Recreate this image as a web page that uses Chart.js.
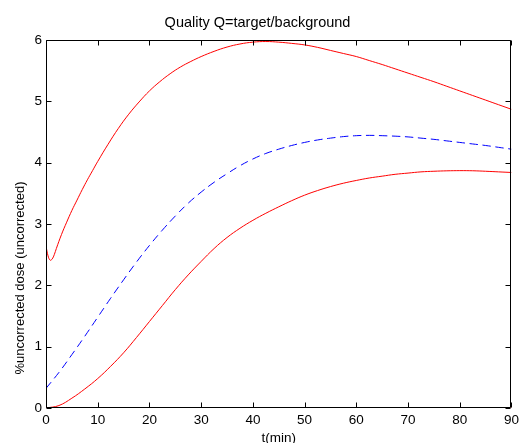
<!DOCTYPE html>
<html>
<head>
<meta charset="utf-8">
<script src="https://cdn.jsdelivr.net/npm/chart.js@4/dist/chart.umd.min.js"></script>
<style>
  html, body { margin: 0; padding: 0; background: #fff; }
  canvas { display: block; }
</style>
</head>
<body>
<canvas id="quality" width="523" height="443"></canvas>
<script>
// --- data ---
const xTicks = [0, 10, 20, 30, 40, 50, 60, 70, 80, 90];
const yTicks = [0, 1, 2, 3, 4, 5, 6];

// shared time grid (min) for the smooth curves
const gridT = [0, 2.5, 5, 7.5, 10, 12.5, 15, 17.5, 20, 22.5, 25, 27.5, 30, 32.5, 35, 37.5, 40, 42.5, 45, 47.5, 50, 52.5, 55, 57.5, 60, 62.5, 65, 67.5, 70, 72.5, 75, 77.5, 80, 82.5, 85, 87.5, 90];

// upper red curve has a dip right after t=0, so it gets its own early points
const upperT = [0, 0.4, 0.8, 1.2, 1.6, 2, 3, 4, 5, 6, 7, 8, 9, 10, 12, 14, 16, 18, 20, 22, 24, 26, 28, 30, 32.5, 35, 37.5, 40, 42.5, 45, 47.5, 50, 52.5, 55, 57.5, 60, 62.5, 65, 67.5, 70, 72.5, 75, 77.5, 80, 82.5, 85, 87.5, 90];
const upperQ = [2.64, 2.48, 2.41, 2.43, 2.5, 2.6, 2.83, 3.03, 3.22, 3.39, 3.56, 3.72, 3.87, 4.02, 4.3, 4.56, 4.79, 4.99, 5.17, 5.32, 5.45, 5.56, 5.65, 5.73, 5.815, 5.885, 5.935, 5.965, 5.975, 5.965, 5.945, 5.92, 5.88, 5.83, 5.78, 5.73, 5.665, 5.6, 5.53, 5.46, 5.39, 5.32, 5.245, 5.17, 5.095, 5.02, 4.945, 4.87];

const meanQ = [0.32, 0.58, 0.87, 1.17, 1.48, 1.79, 2.09, 2.38, 2.65, 2.9, 3.13, 3.34, 3.52, 3.68, 3.82, 3.95, 4.06, 4.15, 4.22, 4.28, 4.33, 4.37, 4.4, 4.425, 4.44, 4.445, 4.44, 4.432, 4.42, 4.4, 4.38, 4.355, 4.33, 4.305, 4.28, 4.25, 4.22];

const lowerQ = [0, 0.04, 0.16, 0.31, 0.48, 0.68, 0.9, 1.15, 1.41, 1.67, 1.93, 2.17, 2.39, 2.6, 2.78, 2.93, 3.06, 3.175, 3.28, 3.38, 3.47, 3.545, 3.61, 3.665, 3.71, 3.75, 3.78, 3.81, 3.83, 3.85, 3.86, 3.867, 3.87, 3.868, 3.86, 3.85, 3.84];

const zeroT = [0, 90];
const zeroQ = [0, 0];

const pts = (ts, qs) => ts.map((t, i) => ({ x: t, y: qs[i] }));
const FONT = "'Liberation Sans', Arial, Helvetica, sans-serif";

// matlab style box with inward ticks on all four sides
const boxTicks = {
    id: 'boxTicks',
    afterDatasetsDraw(chart) {
        const { ctx, chartArea: a, scales: { x, y } } = chart;
        const L = Math.round(a.left) + 0.5, R = Math.round(a.right) - 0.5;
        const T = Math.round(a.top) + 0.5, B = Math.round(a.bottom) - 0.5;
        ctx.save();
        ctx.strokeStyle = '#000';
        ctx.lineWidth = 1;
        ctx.beginPath();
        ctx.rect(L, T, R - L, B - T);
        xTicks.forEach(v => {
            const px = Math.round(x.getPixelForValue(v)) + 0.5;
            ctx.moveTo(px, B); ctx.lineTo(px, B - 5);
            ctx.moveTo(px, T); ctx.lineTo(px, T + 5);
        });
        yTicks.forEach(v => {
            const py = Math.round(y.getPixelForValue(v)) + 0.5;
            ctx.moveTo(L, py); ctx.lineTo(L + 5, py);
            ctx.moveTo(R, py); ctx.lineTo(R - 5, py);
        });
        ctx.stroke();

        // y axis label
        ctx.fillStyle = '#000';
        ctx.font = '13px ' + FONT;
        ctx.textAlign = 'center';
        ctx.textBaseline = 'middle';
        ctx.translate(20, 278);
        ctx.rotate(-Math.PI / 2);
        ctx.fillText('%uncorrected dose (uncorrected)', 0, 0);
        ctx.restore();
    }
};

new Chart(document.getElementById('quality'), {
    type: 'line',
    data: {
        datasets: [
            { data: pts(zeroT, zeroQ), borderColor: '#ff0000', borderWidth: 1, pointRadius: 0 },
            { data: pts(zeroT, zeroQ), borderColor: '#0000ff', borderWidth: 1, pointRadius: 0, borderDash: [8, 5] },
            { data: pts(upperT, upperQ), borderColor: '#ff0000', borderWidth: 1, pointRadius: 0, tension: 0.4 },
            { data: pts(gridT, meanQ), borderColor: '#0000ff', borderWidth: 1, pointRadius: 0, borderDash: [8, 5], tension: 0.4 },
            { data: pts(gridT, lowerQ), borderColor: '#ff0000', borderWidth: 1, pointRadius: 0, tension: 0.4 }
        ]
    },
    options: {
        responsive: false,
        animation: false,
        devicePixelRatio: 1,
        layout: { padding: { left: 0, right: 8, top: 0, bottom: 0 } },
        plugins: {
            legend: { display: false },
            tooltip: { enabled: false },
            title: {
                display: true,
                text: 'Quality Q=target/background',
                color: '#000',
                font: { family: FONT, size: 14.5, weight: 'normal' },
                padding: { top: 14, bottom: 8.6 }
            }
        },
        scales: {
            x: {
                type: 'linear', min: 0, max: 90,
                afterBuildTicks: s => { s.ticks = xTicks.map(v => ({ value: v })); },
                afterFit: s => { s.height = 35; },
                grid: { display: false, drawTicks: false },
                border: { display: false },
                ticks: { color: '#000', padding: 4, maxRotation: 0, font: { family: FONT, size: 13.5 } },
                title: { display: true, text: 't(min)', color: '#000', font: { family: FONT, size: 13.5 }, padding: { top: 0, bottom: -3 } }
            },
            y: {
                type: 'linear', min: 0, max: 6,
                afterBuildTicks: s => { s.ticks = yTicks.map(v => ({ value: v })); },
                afterFit: s => { s.width = 46; },
                grid: { display: false, drawTicks: false },
                border: { display: false },
                ticks: { color: '#000', padding: 4, font: { family: FONT, size: 13.5 } }
            }
        }
    },
    plugins: [boxTicks]
});
</script>
</body>
</html>
